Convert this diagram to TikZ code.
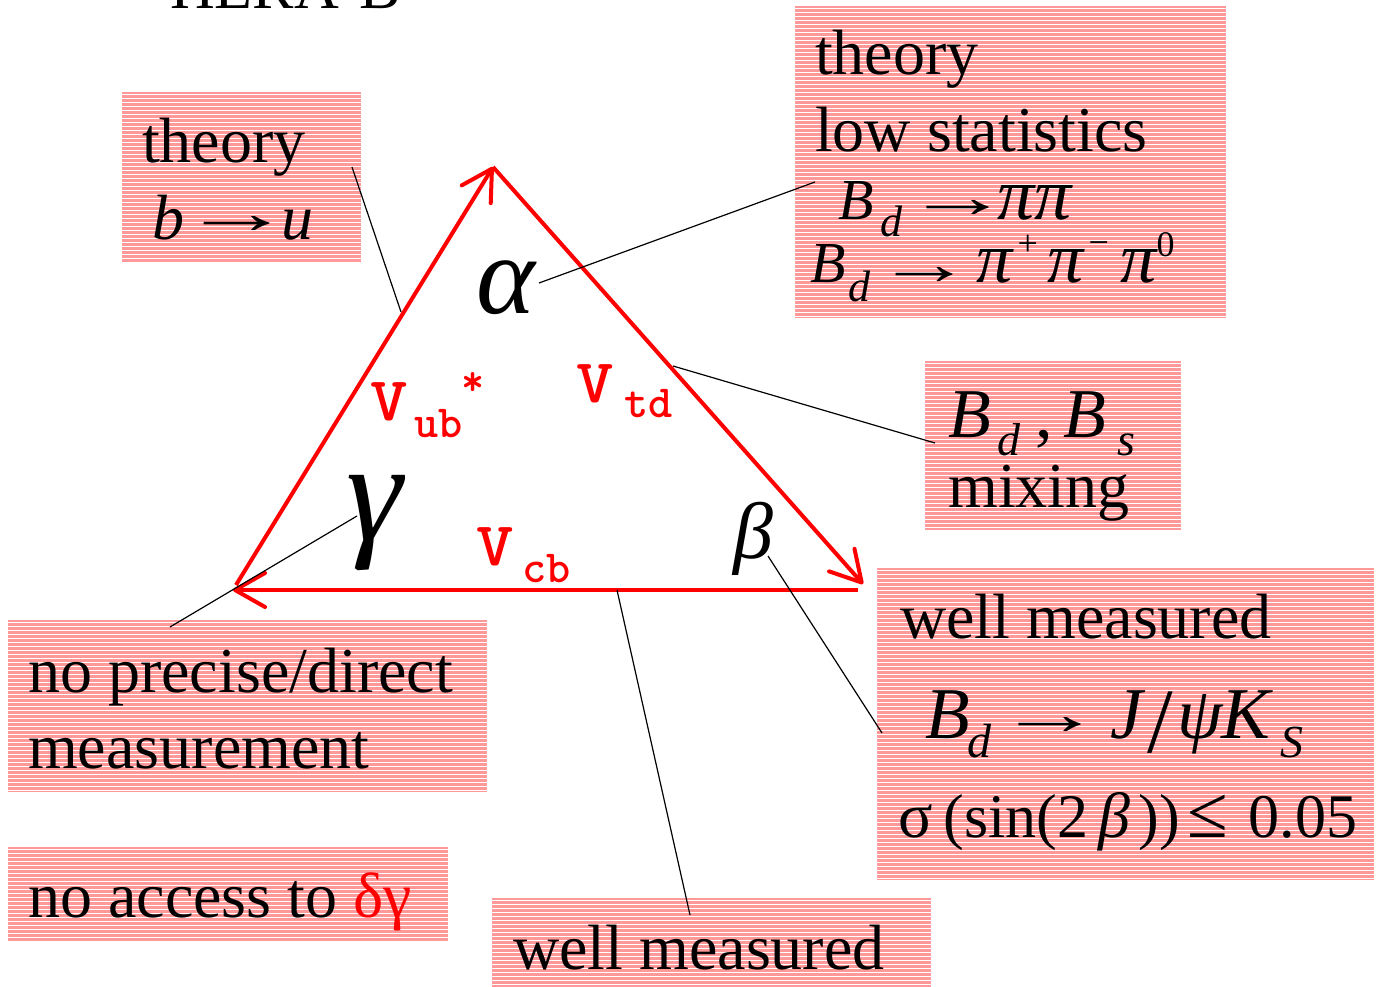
\documentclass[tikz,border=0pt]{standalone}
\usepackage{fontspec}
\setmainfont{Liberation Serif}
\usetikzlibrary{arrows.meta}
\definecolor{boxpink}{RGB}{255,153,153}
\newcommand\fsz[1]{\fontsize{#1}{#1}\selectfont}
\newcommand\pc[3]{\rlap{\hspace*{#1pt}\raisebox{#2pt}{#3}}}
\newcommand\larr[2]{{\fsz{60}\scalebox{#1}[1]{→}}}
\tikzset{
  stripebox/.style={rectangle, inner sep=0pt, anchor=north west, fill=boxpink,
    path picture={\foreach \k in {2,6,...,318}{\draw[white,line width=0.9pt]
      ([yshift=-\k pt]path picture bounding box.north west) --
      ([yshift=-\k pt]path picture bounding box.north east);}}},
  txt/.style={anchor=base west, inner sep=0pt, text=black},
  vec/.style={red, line width=4pt, -{Straight Barb[length=30pt,width=34pt,round]}},
  lead/.style={black, line width=1.2pt},
  ckm/.style={text=red, inner sep=0pt, anchor=base west, font=\ttfamily\bfseries},
}
\begin{document}
\begin{tikzpicture}[x=1pt,y=-1pt]
\useasboundingbox (0,0) rectangle (1377,987);

% title (cut off at top)
\node[txt] (title) at (170,9) {\fsz{62}HERA-B};

% boxes
\node[stripebox, minimum width=239pt, minimum height=171pt] (b1) at (122,92) {};
\node[stripebox, minimum width=431pt, minimum height=312pt] (b2) at (795,6) {};
\node[stripebox, minimum width=256pt, minimum height=169pt] (b3) at (925,361) {};
\node[stripebox, minimum width=497pt, minimum height=312pt] (b4) at (877,568) {};
\node[stripebox, minimum width=479pt, minimum height=172pt] (b5) at (8,620) {};
\node[stripebox, minimum width=440pt, minimum height=94pt] (b6) at (8,847) {};
\node[stripebox, minimum width=439pt, minimum height=89pt] (b7) at (492,898) {};

% box texts
\node[txt] (t1a) at (142,163) {\fsz{64}theory};
\node[txt] (t1b) at (152,240) {\pc{0}{0}{\fsz{64}\itshape b}\pc{29}{6}{\larr{1.85}{}}\pc{129}{0}{\fsz{64}\itshape u}};

\node[txt] (t2a) at (815,75) {\fsz{64}theory};
\node[txt] (t2b) at (815,152) {\fsz{64}low statistics};
\node[txt] (t2c) at (838,220) {\pc{0}{0}{\fsz{58}\itshape B}\pc{42}{-17}{\fsz{44}\itshape d}\pc{67}{2}{\larr{1.75}{}}\pc{159}{0}{\fsz{74}\itshape ππ}};
\node[txt] (t2d) at (810,283) {\pc{0}{0}{\fsz{58}\itshape B}\pc{38}{-19}{\fsz{44}\itshape d}\pc{66}{-2}{\larr{1.6}{}}\pc{166}{0}{\fsz{72}\itshape π}\pc{207}{27}{\fsz{36}+}\pc{237}{0}{\fsz{72}\itshape π}\pc{278}{28}{\fsz{36}−}\pc{310}{0}{\fsz{72}\itshape π}\pc{346}{26}{\fsz{36}0}};

\node[txt] (t3a) at (948,437) {\pc{0}{0}{\fsz{70}\itshape B}\pc{49}{-18}{\fsz{46}\itshape d}\pc{87}{0}{\fsz{70},}\pc{115}{0}{\fsz{70}\itshape B}\pc{169}{-18}{\fsz{46}\itshape s}};
\node[txt] (t3b) at (948,507) {\fsz{64}mixing};

\node[txt] (t4a) at (900,638) {\fsz{64}well measured};
\node[txt] (t4b) at (925,738) {\pc{0}{0}{\fsz{73}\itshape B}\pc{42}{-19}{\fsz{48}\itshape d}\pc{72}{4}{\larr{1.75}{}}\pc{185}{0}{\fsz{73}\itshape J}\pc{222}{-14}{\fsz{92}/}\pc{252}{0}{\fsz{73}\itshape ψ}\pc{296}{0}{\fsz{73}\itshape K}\pc{355}{-19}{\fsz{46}\itshape S}};
\node[txt] (t4c) at (898,837) {\pc{0}{0}{\fsz{64}σ}\pc{45}{0}{\fsz{62}(sin(2}\pc{200}{0}{\fsz{64}\itshape β}\pc{240}{0}{\fsz{62}))}\pc{289}{0}{\fsz{74}≤}\pc{350}{0}{\fsz{62}0.05}};

\node[txt] (t5a) at (28,692) {\fsz{64}no precise/direct};
\node[txt] (t5b) at (28,768) {\fsz{64}measurement};
\node[txt] (t6) at (28,917) {\fsz{64}no access to {\color{red}δγ}};
\node[txt] (t7) at (513,969) {\fsz{64}well measured};

% triangle vertices
\coordinate (A) at (493,167);
\coordinate (L) at (236,585);
\coordinate (R) at (863,584);
\coordinate (Rb) at (858,590);
\coordinate (Lb) at (233,590);
\draw[vec] (L) -- (A);
\draw[vec] (A) -- (R);
\draw[vec] (Rb) -- (Lb);

% angles
\node[txt] (alpha) at (476,313) {\fsz{112}\itshape α};
\node[txt] (gamma) at (346,540) {\fsz{142}\itshape γ};
\node[txt] (beta) at (733,558) {\fsz{80}\itshape β};

% CKM elements
\node[ckm] (Vub) at (370,420) {\fsz{62}\scalebox{1.15}[1]{V}};
\node[ckm] (ub) at (414,437) {\fsz{46}ub};
\node[ckm] (star) at (461,395) {\fsz{44}*};
\node[ckm] (Vtd) at (576,402) {\fsz{62}\scalebox{1.15}[1]{V}};
\node[ckm] (td) at (624,417) {\fsz{46}td};
\node[ckm] (Vcb) at (476,565) {\fsz{62}\scalebox{1.15}[1]{V}};
\node[ckm] (cb) at (522,582) {\fsz{46}cb};

% leader lines
\coordinate (p1a) at (352,167);
\coordinate (p1b) at (401,312);
\coordinate (p2a) at (539,283);
\coordinate (p2b) at (815,182);
\coordinate (p3a) at (673,366);
\coordinate (p3b) at (935,443);
\coordinate (p4a) at (357,516);
\coordinate (p4b) at (170,627);
\coordinate (p5a) at (617,590);
\coordinate (p5b) at (690,915);
\coordinate (p6a) at (768,556);
\coordinate (p6b) at (882,733);
\draw[lead] (p1a) -- (p1b);
\draw[lead] (p2a) -- (p2b);
\draw[lead] (p3a) -- (p3b);
\draw[lead] (p4a) -- (p4b);
\draw[lead] (p5a) -- (p5b);
\draw[lead] (p6a) -- (p6b);
\end{tikzpicture}
\end{document}
